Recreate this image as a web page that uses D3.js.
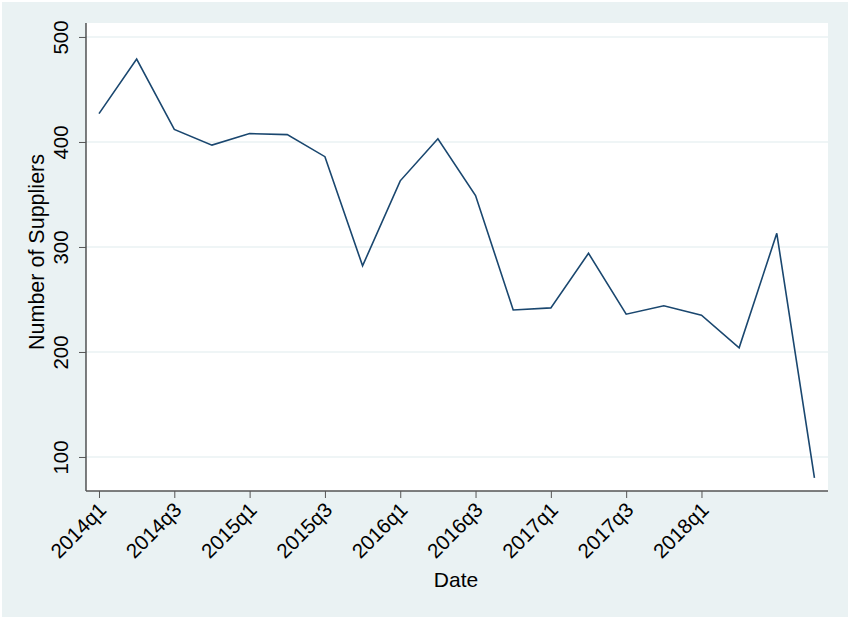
<!DOCTYPE html>
<html>
<head>
<meta charset="utf-8">
<script src="https://cdn.jsdelivr.net/npm/d3@7"></script>
<style>
  html, body { margin: 0; padding: 0; background: #ffffff; }
  svg text { font-family: "Liberation Sans", Arial, Helvetica, sans-serif; fill: #000; }
</style>
</head>
<body>
<svg id="chart" width="848" height="617"></svg>
<script>
// quarters 2014q1 .. 2018q4
var quarters = ["2014q1","2014q2","2014q3","2014q4",
                "2015q1","2015q2","2015q3","2015q4",
                "2016q1","2016q2","2016q3","2016q4",
                "2017q1","2017q2","2017q3","2017q4",
                "2018q1","2018q2","2018q3","2018q4"];
var suppliers = [427, 479, 412, 397,
                 408, 407, 386, 282,
                 363, 403, 349, 240,
                 242, 294, 236, 244,
                 235, 204, 313, 80];
var xTickLabels = ["2014q1","2014q3","2015q1","2015q3","2016q1","2016q3","2017q1","2017q3","2018q1"];
var yTicks = [100, 200, 300, 400, 500];

var svg = d3.select("#chart");
var box = {left: 86, right: 828, top: 23, bottom: 491};

// background (Stata s2color look)
svg.append("rect").attr("x", 2).attr("y", 2).attr("width", 846).attr("height", 615)
   .attr("fill", "#eaf2f3");
svg.append("rect").attr("x", box.left).attr("y", box.top)
   .attr("width", box.right - box.left).attr("height", box.bottom - box.top)
   .attr("fill", "#ffffff");

var x = d3.scaleLinear().domain([-0.345, 19.36]).range([box.left, box.right]);
var y = d3.scaleLinear().domain([67.6, 513.3]).range([box.bottom, box.top]);

// gridlines
svg.append("g").selectAll("line").data(yTicks).enter().append("line")
   .attr("x1", box.left).attr("x2", box.right)
   .attr("y1", function(d){ return y(d); }).attr("y2", function(d){ return y(d); })
   .attr("stroke", "#eaf2f3").attr("stroke-width", 1.5);

// the series
var line = d3.line()
   .x(function(d, i){ return x(i); })
   .y(function(d){ return y(d); });
svg.append("path").datum(suppliers)
   .attr("d", line)
   .attr("fill", "none")
   .attr("stroke", "#1a476f")
   .attr("stroke-width", 1.6)
   .attr("stroke-linejoin", "miter");

// y axis
var yAxis = svg.append("g").attr("transform", "translate(" + box.left + ",0)")
   .call(d3.axisLeft(y).tickValues(yTicks).tickSize(7).tickSizeOuter(0).tickPadding(0));
yAxis.select(".domain").attr("d", "M0," + box.top + "V" + box.bottom).attr("stroke", "#000");
yAxis.selectAll(".tick line").attr("stroke", "#555");
yAxis.selectAll(".tick text")
   .attr("x", null).attr("dy", null)
   .attr("transform", "translate(-18,0) rotate(-90)")
   .attr("text-anchor", "middle")
   .style("font-size", "20.5px")
   .style("font-family", '"Liberation Sans", Arial, Helvetica, sans-serif');

// x axis
var xAxis = svg.append("g").attr("transform", "translate(0," + box.bottom + ")")
   .call(d3.axisBottom(x)
      .tickValues(xTickLabels.map(function(q){ return quarters.indexOf(q); }))
      .tickFormat(function(i){ return quarters[i]; })
      .tickSize(7).tickSizeOuter(0));
xAxis.select(".domain").attr("d", "M" + box.left + ",0H" + box.right)
   .attr("stroke", "#555").attr("stroke-width", 1.3);
xAxis.selectAll(".tick line").attr("stroke", "#555");
xAxis.selectAll(".tick text")
   .attr("y", null).attr("dy", "0.35em")
   .attr("transform", "translate(3,15) rotate(-45)")
   .attr("text-anchor", "end")
   .style("font-size", "20.5px")
   .style("font-family", '"Liberation Sans", Arial, Helvetica, sans-serif');

// axis titles
svg.append("text")
   .attr("transform", "translate(44,252) rotate(-90)")
   .attr("text-anchor", "middle")
   .style("font-size", "21.5px")
   .text("Number of Suppliers");
svg.append("text")
   .attr("x", 456).attr("y", 587)
   .attr("text-anchor", "middle")
   .style("font-size", "21px")
   .text("Date");
</script>
</body>
</html>
